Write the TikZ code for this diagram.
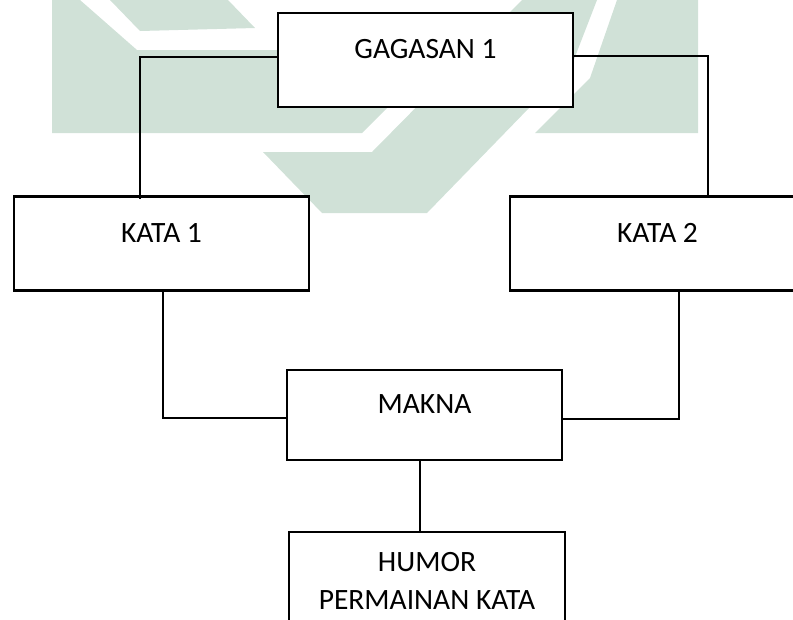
\documentclass[tikz,border=0pt]{standalone}
\usepackage{fontspec}
\setmainfont{Carlito}
\usepackage{tikz}
\usetikzlibrary{positioning}
\definecolor{logogreen}{RGB}{208,225,215}

\begin{document}
\begin{tikzpicture}[x=1pt, y=-1pt,
    kotak/.style={draw, line width=2.4pt, fill=white, rectangle, minimum width=295pt, minimum height=94pt,
        font=\fontsize{29.5}{38}\selectfont, text height=19pt, text depth=22pt, align=center},
    garis/.style={line width=1.8pt},
    logo/.style={fill=logogreen, draw=none}]
\useasboundingbox (0,0) rectangle (793,619);

% watermark
\fill[logo] (52,0) -- (80,0) -- (137,50) -- (445,50) -- (362,133) -- (52,133) -- cycle;
\fill[logo] (110,0) -- (140,31) -- (255,28) -- (228,0) -- cycle;
\fill[logo] (263,152) -- (372,152) -- (522,0) -- (597,0) -- (573,62) -- (530,107) -- (427,213) -- (322,213) -- cycle;
\fill[logo] (535,133) -- (590,78) -- (617,0) -- (698,0) -- (698,133) -- cycle;

\node[kotak] (gagasan) at (425.5,60){GAGASAN 1};
\node[kotak] (kata1) at (161.5,243.5){KATA 1};
\node[kotak] (kata2) at (657.5,243.5){KATA 2};
\node[kotak, minimum width=275pt, minimum height=90pt] (makna) at (424.5,415){MAKNA};
\node[kotak, minimum width=276pt, minimum height=135.6pt, text depth=0pt] (humor) at (427,599.8){HUMOR\\PERMAINAN KATA};

\draw[garis] ([yshift=3pt]gagasan.west) -| ([xshift=-21.5pt,yshift=-4pt]kata1.north);
\draw[garis] ([yshift=4pt]gagasan.east) -| ([xshift=50.5pt]kata2.north);

\draw[garis] ([xshift=1.5pt]kata1.south) |- ([yshift=-3pt]makna.west);
\draw[garis] ([xshift=21.5pt]kata2.south) |- ([yshift=-4pt]makna.east);

\draw[garis] ([xshift=-4.5pt]makna.south) -- ([xshift=-4.5pt]makna.south |- humor.north);
\end{tikzpicture}
\end{document}
